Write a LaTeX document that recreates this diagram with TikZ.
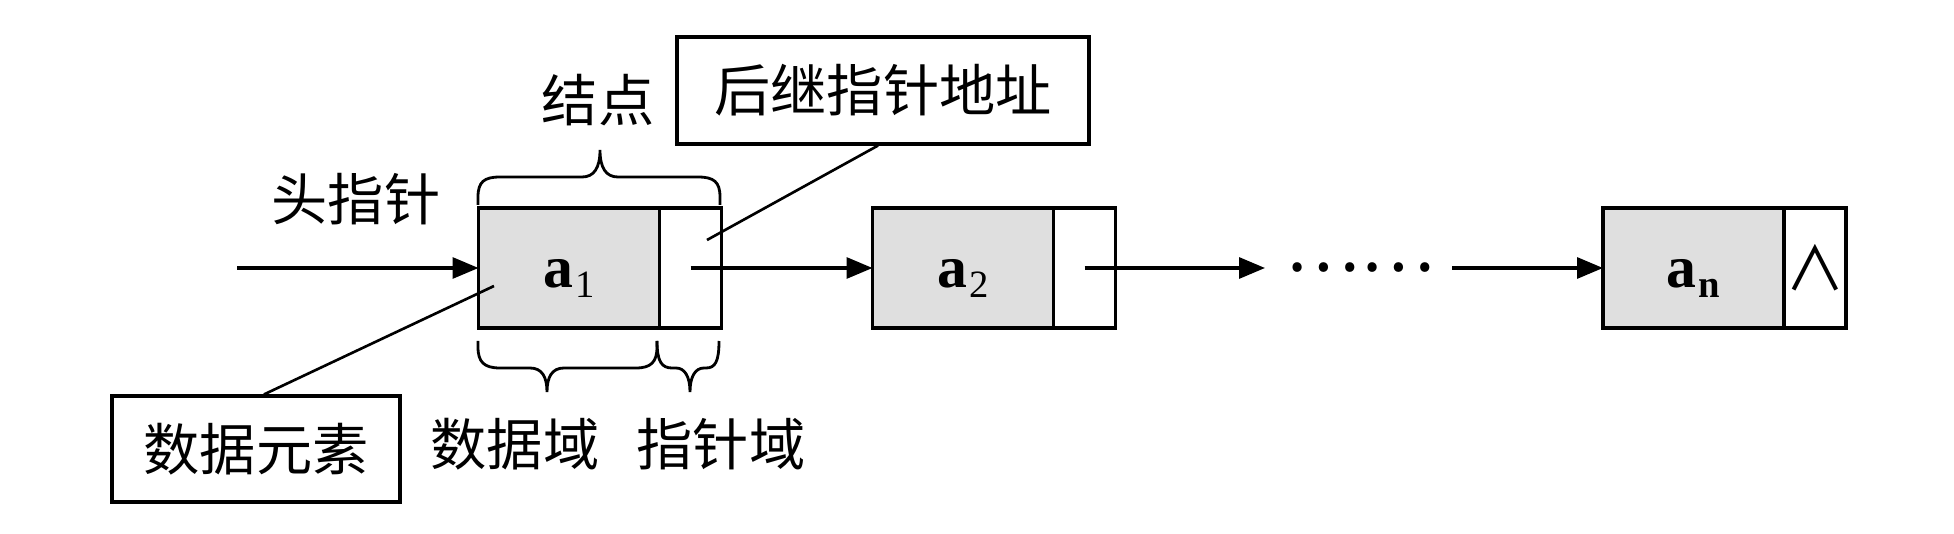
\documentclass[tikz,border=0pt]{standalone}
\usepackage{fontspec}
\setmainfont{Liberation Serif}
\newfontfamily\cjk{Noto Sans CJK SC}
\usetikzlibrary{positioning,arrows.meta}

\tikzset{
  datafield/.style={draw, line width=2pt, fill=gray!25, minimum width=3.62cm, minimum height=2.4cm,
    outer sep=0pt, inner sep=0pt, font=\fontsize{34}{34}\selectfont, text height=0.8cm, text depth=0pt},
  ptrfield/.style={draw, line width=2pt, minimum width=1.24cm, minimum height=2.4cm, outer sep=0pt, inner sep=0pt},
  tag/.style={font=\cjk\fontsize{32}{34}\selectfont, inner sep=0pt},
  tagbox/.style={tag, draw, line width=1.8pt},
  link/.style={line width=1.8pt, -{Triangle[length=0.52cm,width=0.42cm]}},
  lead/.style={line width=1.5pt},
  curly/.style={line width=1.6pt}
}

\begin{document}
\begin{tikzpicture}
\useasboundingbox (0,0) rectangle (39.08,10.68);

\node[datafield] (d1) at (11.38,5.32) {\textbf{a}\kern1pt\raisebox{-0.2cm}{\fontsize{22}{22}\selectfont 1}};
\node[ptrfield, right=0pt of d1] (p1) {};
\node[datafield] (d2) at (19.26,5.32) {\textbf{a}\kern1pt\raisebox{-0.2cm}{\fontsize{22}{22}\selectfont 2}};
\node[ptrfield, right=0pt of d2] (p2) {};
\node[datafield] (dn) at (33.87,5.32) {\textbf{a}\kern1pt\raisebox{-0.2cm}{\fontsize{22}{22}\selectfont\bfseries n}};
\node[ptrfield, right=0pt of dn, font=\cjk\fontsize{34}{34}\selectfont] (pn) {∧};

\node[tag] (headtag) at (7.12,6.70) {头指针};
\node[tag] (nodetag) at (11.96,8.68) {结点};
\node[tagbox, minimum width=8.24cm, minimum height=2.14cm] (succ) at (17.66,8.87) {后继指针地址};
\node[tagbox, minimum width=5.76cm, minimum height=2.12cm] (elem) at (5.12,1.70) {数据元素};
\node[tag] (datatag) at (10.30,1.80) {数据域};
\node[tag] (ptrtag) at (14.42,1.80) {指针域};
\node[tag, font=\cjk\fontsize{40}{40}\selectfont] (dots) at (27.20,5.32) {……};

\coordinate (head) at (4.74,5.32);
\coordinate (gap1) at (25.30,5.32);
\coordinate (gap2) at (29.04,5.32);
\coordinate (succend) at (14.14,5.88);
\coordinate (elemend) at (9.88,4.96);

\draw[link] (head) -- (d1.west);
\draw[link] (p1.center) -- (d2.west);
\draw[link] (p2.center) -- (gap1);
\draw[link] (gap2) -- (dn.west);
\draw[lead] ([xshift=-0.1cm]succ.south) -- (succend);
\draw[lead] ([xshift=0.16cm]elem.north) -- (elemend);

\draw[curly] (9.56,6.58) -- (9.56,6.74) .. controls (9.56,7.04) and (9.68,7.14) .. (10.00,7.14) -- (11.64,7.14) .. controls (11.88,7.14) and (12.00,7.32) .. (12.00,7.68) .. controls (12.00,7.32) and (12.12,7.14) .. (12.36,7.14) -- (13.96,7.14) .. controls (14.28,7.14) and (14.40,7.04) .. (14.40,6.74) -- (14.40,6.58);
\draw[curly] (9.56,3.86) -- (9.56,3.74) .. controls (9.56,3.44) and (9.68,3.32) .. (10.00,3.32) -- (10.60,3.32) .. controls (10.84,3.32) and (10.94,3.14) .. (10.94,2.84) .. controls (10.94,3.14) and (11.04,3.32) .. (11.28,3.32) -- (12.72,3.32) .. controls (13.02,3.32) and (13.14,3.44) .. (13.14,3.74) -- (13.14,3.86);
\draw[curly] (13.14,3.86) .. controls (13.14,3.44) and (13.24,3.32) .. (13.44,3.32) -- (13.52,3.32) .. controls (13.70,3.32) and (13.80,3.14) .. (13.80,2.84) .. controls (13.80,3.14) and (13.90,3.32) .. (14.08,3.32) -- (14.12,3.32) .. controls (14.30,3.32) and (14.38,3.44) .. (14.38,3.86);
\end{tikzpicture}
\end{document}
